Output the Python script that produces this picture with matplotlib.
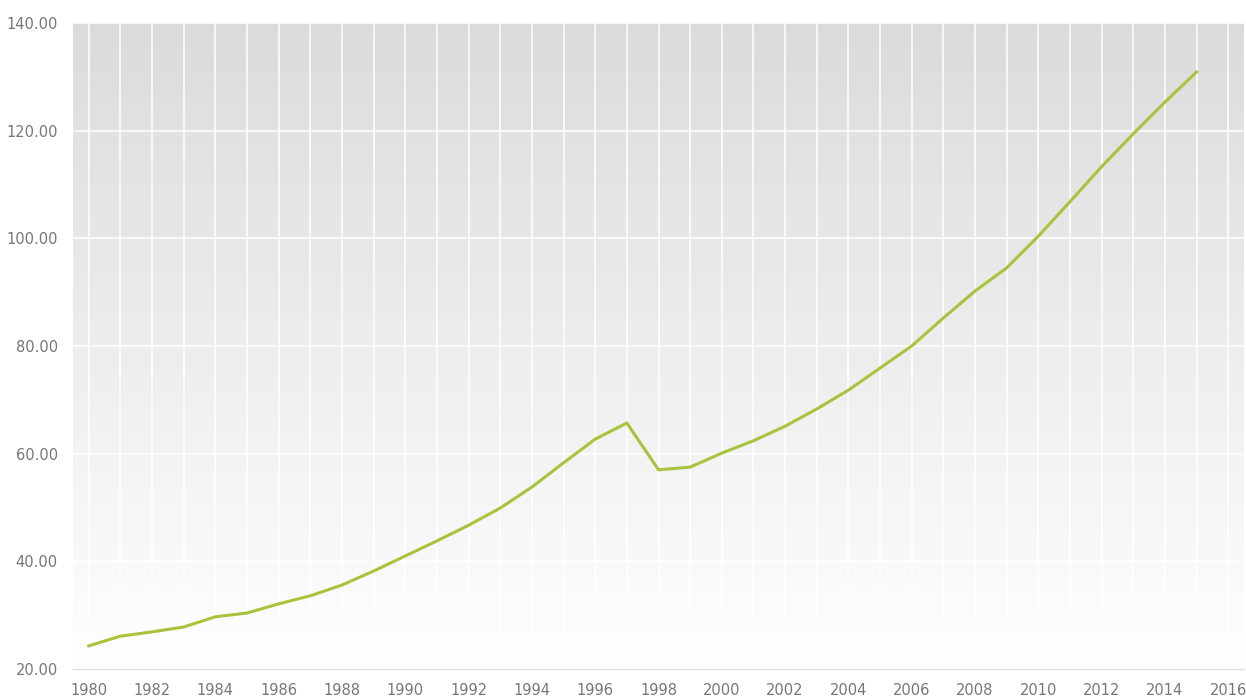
import matplotlib
matplotlib.use("Agg")
import matplotlib.pyplot as plt
import numpy as np

years = list(range(1980, 2016))
values = [24.3, 26.1, 26.9, 27.8, 29.7, 30.4, 32.1, 33.6, 35.6, 38.2,
          41.0, 43.8, 46.7, 49.9, 53.8, 58.3, 62.7, 65.7, 57.0, 57.5,
          60.1, 62.4, 65.1, 68.3, 71.8, 75.9, 80.0, 85.2, 90.2, 94.5,
          100.4, 106.8, 113.3, 119.4, 125.3, 130.9]
xticks = list(range(1980, 2017, 2))
yticks = [20, 40, 60, 80, 100, 120, 140]

fig = plt.figure(figsize=(12.46, 6.97), dpi=100)
ax = fig.add_axes([73/1246, 1 - 669/697, (1244-73)/1246, (669-23)/697])

xmin, xmax = 1979.5, 2016.5
ymin, ymax = 20, 140
grad = np.linspace(0, 1, 256).reshape(-1, 1)
top = np.array([0.86, 0.86, 0.86])
bot = np.array([1.0, 1.0, 1.0])
img = top[None, None, :] * (1 - grad[..., None]) + bot[None, None, :] * grad[..., None]
ax.imshow(img, extent=[xmin, xmax, ymin, ymax], aspect='auto', zorder=0, origin='upper')

for yr in range(1980, 2017):
    ax.axvline(yr, color='white', lw=1.1, zorder=1)
for yv in yticks[1:]:
    ax.axhline(yv, color='white', lw=1.1, zorder=1)

ax.plot(years, values, color='#a8c43c', lw=2.2, zorder=3, solid_joinstyle='round')

ax.set_xlim(xmin, xmax)
ax.set_ylim(ymin, ymax)
ax.set_xticks(xticks)
ax.set_xticklabels([str(x) for x in xticks])
ax.set_yticks(yticks)
ax.set_yticklabels([f"{y:.2f}" for y in yticks])
ax.tick_params(length=0, labelsize=10.5, colors='#777777', pad=10)
ax.tick_params(axis='y', pad=11)
for s in ['top', 'right', 'left']:
    ax.spines[s].set_visible(False)
ax.spines['bottom'].set_color('#dddddd')
ax.spines['bottom'].set_linewidth(1)
fig.savefig("out.png", dpi=100)
